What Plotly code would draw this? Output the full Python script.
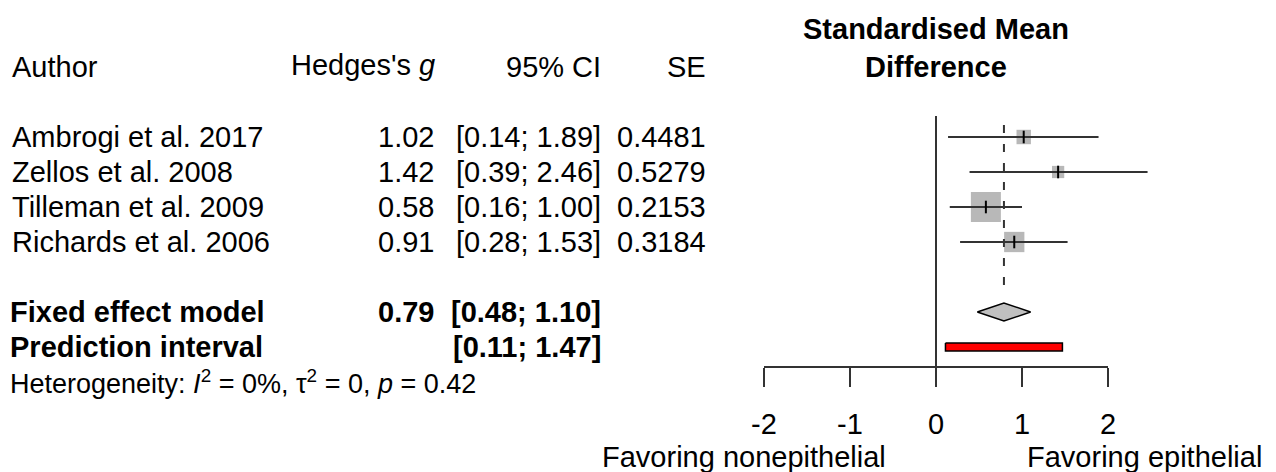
import plotly.graph_objects as go

# ---- data ----
authors = ["Ambrogi et al. 2017", "Zellos et al. 2008", "Tilleman et al. 2009", "Richards et al. 2006"]
hedges_g = [1.02, 1.42, 0.58, 0.91]
ci_low = [0.14, 0.39, 0.16, 0.28]
ci_high = [1.89, 2.46, 1.00, 1.53]
se = [0.4481, 0.5279, 0.2153, 0.3184]
fixed_est = 0.79
fixed_low = 0.48
fixed_high = 1.10
pred_low = 0.11
pred_high = 1.47
heterogeneity = "Heterogeneity: <i>I</i><sup>2</sup> = 0%, τ<sup>2</sup> = 0, <i>p</i> = 0.42"
tick_vals = [-2, -1, 0, 1, 2]
tick_labels = ["-2", "-1", "0", "1", "2"]
label_left = "Favoring nonepithelial"
label_right = "Favoring epithelial"

# ---- layout geometry ----
W, H = 1276, 472
FONT = "Liberation Sans, Arial, sans-serif"
FS = 29
ROW0_PX, ROW_PX = 137, 35          # pixel of row 1, pixel per row
X0_PX, UNIT_PX = 936, 86           # pixel of x=0, pixel per unit
LINE_COL = "#333333"

def px(x):
    return x / W

study_rows = [1, 2, 3, 4]
fixed_row, pred_row, het_row, head_row = 6, 7, 8, -1

fig = go.Figure()

# weights -> square sizes (fixed effect: 1/SE^2, side ~ sqrt(weight))
sizes = [30 * se[2] / s for s in se]
fig.add_trace(go.Scatter(x=hedges_g, y=study_rows, mode="markers",
                         marker=dict(symbol="square", size=sizes, color="#b8b8b8", opacity=1,
                                     line=dict(width=0)),
                         hoverinfo="skip"))

# zero line
fig.add_trace(go.Scatter(x=[0, 0], y=[0.4, 7.54], mode="lines",
                         line=dict(color=LINE_COL, width=2), hoverinfo="skip"))
# fixed effect dashed line
fig.add_trace(go.Scatter(x=[fixed_est, fixed_est], y=[0.66, 5.46], mode="lines",
                         line=dict(color=LINE_COL, width=2, dash="8px,11px"), hoverinfo="skip"))

# CI lines
cx, cy = [], []
for lo, hi, r in zip(ci_low, ci_high, study_rows):
    cx += [lo, hi, None]
    cy += [r, r, None]
fig.add_trace(go.Scatter(x=cx, y=cy, mode="lines", line=dict(color=LINE_COL, width=2), hoverinfo="skip"))

# estimate ticks
fig.add_trace(go.Scatter(x=hedges_g, y=study_rows, mode="markers",
                         marker=dict(symbol="line-ns", size=9, line=dict(width=2, color="black")),
                         hoverinfo="skip"))

# diamond
dh = 9 / ROW_PX
fig.add_trace(go.Scatter(x=[fixed_low, fixed_est, fixed_high, fixed_est, fixed_low],
                         y=[fixed_row, fixed_row - dh, fixed_row, fixed_row + dh, fixed_row],
                         mode="lines", fill="toself", fillcolor="#c0c0c0",
                         line=dict(color="black", width=1.5), hoverinfo="skip"))

# prediction interval bar
ph = 4 / ROW_PX
fig.add_trace(go.Scatter(x=[pred_low, pred_high, pred_high, pred_low, pred_low],
                         y=[pred_row - ph, pred_row - ph, pred_row + ph, pred_row + ph, pred_row - ph],
                         mode="lines", fill="toself", fillcolor="#ff0000",
                         line=dict(color="black", width=1.5), hoverinfo="skip"))

# dummy trace for the visible axis
fig.add_trace(go.Scatter(x=[0], y=[0.5], xaxis="x2", yaxis="y2", mode="markers",
                         marker=dict(opacity=0, size=1), hoverinfo="skip"))

ann = []
def txt(text, xpx, row, anchor, size=FS, bold=False):
    if bold:
        text = "<b>" + text + "</b>"
    ann.append(dict(text=text, x=px(xpx), xref="paper", y=row, yref="y",
                    xanchor=anchor, yanchor="middle", showarrow=False,
                    font=dict(family=FONT, size=size, color="black")))

# headers
txt("Author", 10, head_row, "left")
txt("Hedges's <i>g</i>", 437, head_row - 0.06, "right")
txt("95% CI", 603, head_row, "right")
txt("SE", 708, head_row, "right")
txt("Standardised Mean", X0_PX, -2.09, "center", bold=True)
txt("Difference", X0_PX, -1.0, "center", bold=True)

for a, g, lo, hi, s, r in zip(authors, hedges_g, ci_low, ci_high, se, study_rows):
    txt(a, 10, r, "left")
    txt(f"{g:.2f}", 436, r, "right")
    txt(f"[{lo:.2f}; {hi:.2f}]", 603, r, "right")
    txt(f"{s:.4f}", 708, r, "right")

txt("Fixed effect model", 8, fixed_row, "left", bold=True)
txt(f"{fixed_est:.2f}", 436, fixed_row, "right", bold=True)
txt(f"[{fixed_low:.2f}; {fixed_high:.2f}]", 603, fixed_row, "right", bold=True)
txt("Prediction interval", 8, pred_row, "left", bold=True)
txt(f"[{pred_low:.2f}; {pred_high:.2f}]", 603, pred_row, "right", bold=True)
txt(heterogeneity, 8, het_row, "left", size=27)

# favoring labels (y in rows)
fav_row = (457 - ROW0_PX) / ROW_PX + 1
ann.append(dict(text=label_left, x=-0.56, xref="x", y=fav_row, yref="y",
                xanchor="right", yanchor="middle", showarrow=False,
                font=dict(family=FONT, size=FS, color="black")))
ann.append(dict(text=label_right, x=1.03, xref="x", y=fav_row, yref="y",
                xanchor="left", yanchor="middle", showarrow=False,
                font=dict(family=FONT, size=FS, color="black")))

y_top = (0 - ROW0_PX) / ROW_PX + 1
y_bot = (H - ROW0_PX) / ROW_PX + 1
axis_paper = 1 - 366 / H

fig.update_layout(
    width=W, height=H,
    margin=dict(l=0, r=0, t=0, b=0, pad=0, autoexpand=False),
    paper_bgcolor="white", plot_bgcolor="rgba(0,0,0,0)",
    showlegend=False,
    annotations=ann,
    xaxis=dict(domain=[0, 1], range=[-X0_PX / UNIT_PX, (W - X0_PX) / UNIT_PX],
               visible=False, fixedrange=True),
    yaxis=dict(domain=[0, 1], range=[y_bot, y_top], visible=False, fixedrange=True),
    xaxis2=dict(domain=[px(X0_PX - 2 * UNIT_PX), px(X0_PX + 2 * UNIT_PX)], range=[-2, 2],
                anchor="y2", showline=True, linecolor=LINE_COL, linewidth=2,
                ticks="outside", ticklen=19, tickwidth=2, tickcolor=LINE_COL,
                tickvals=tick_vals, ticktext=tick_labels, showgrid=False, zeroline=False,
                tickfont=dict(family=FONT, size=FS, color="black"), ticklabelstandoff=12,
                automargin=False, fixedrange=True),
    yaxis2=dict(domain=[axis_paper, axis_paper + 0.01], range=[0, 1], visible=False,
                anchor="x2", fixedrange=True),
)

fig.write_html("out.html", config={"displayModeBar": False},
               post_script="document.body.style.margin='0';document.body.style.overflow='hidden';")
